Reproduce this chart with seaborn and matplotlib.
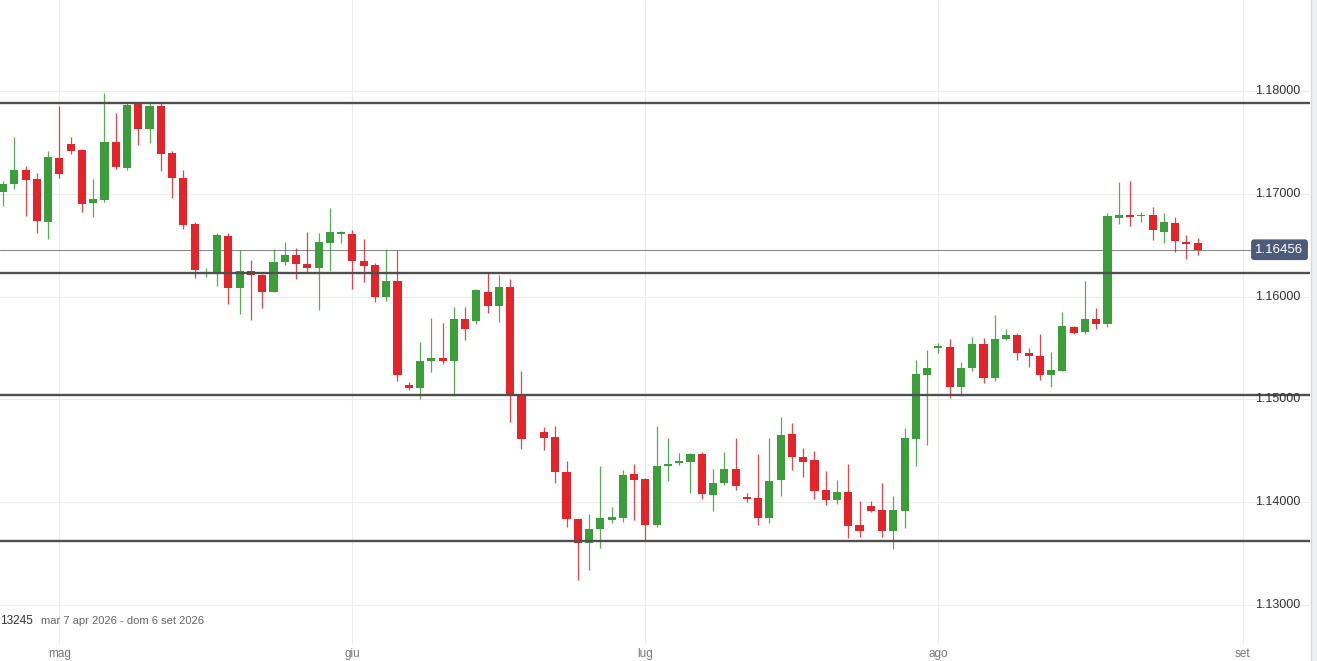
import seaborn as sns
import pandas as pd
import numpy as np
import matplotlib.pyplot as plt
import matplotlib.transforms as mtransforms
from matplotlib.patches import Rectangle
from matplotlib.lines import Line2D

# candele giornaliere (slot = una seduta, 6 per settimana); lo slot 47 è vuoto
opens = [1.1702, 1.1710, 1.1723, 1.1714, 1.1673, 1.1735, 1.1748, 1.1743, 1.1691, 1.1694,
         1.1750, 1.1725, 1.1787, 1.1763, 1.1785, 1.1740, 1.1715, 1.1671, 1.1622, 1.1624,
         1.1659, 1.1608, 1.1625, 1.1621, 1.1604, 1.1634, 1.1640, 1.1632, 1.1628, 1.1652,
         1.1661, 1.1661, 1.1635, 1.1631, 1.1600, 1.1615, 1.1514, 1.1511, 1.1537, 1.1540,
         1.1537, 1.1578, 1.1576, 1.1604, 1.1591, 1.1609, 1.1504, np.nan, 1.1468, 1.1463,
         1.1429, 1.1384, 1.1360, 1.1374, 1.1383, 1.1385, 1.1427, 1.1423, 1.1378, 1.1435,
         1.1438, 1.1439, 1.1447, 1.1407, 1.1419, 1.1432, 1.1405, 1.1404, 1.1385, 1.1422,
         1.1466, 1.1444, 1.1441, 1.1412, 1.1402, 1.1410, 1.1378, 1.1396, 1.1392, 1.1372,
         1.1391, 1.1461, 1.1524, 1.1550, 1.1551, 1.1512, 1.1531, 1.1554, 1.1521, 1.1559,
         1.1563, 1.1545, 1.1542, 1.1524, 1.1528, 1.1570, 1.1566, 1.1578, 1.1573, 1.1676,
         1.1679, 1.1678, 1.1679, 1.1663, 1.1672, 1.1653, 1.1652]
highs = [1.1712, 1.1755, 1.1727, 1.1720, 1.1742, 1.1785, 1.1755, 1.1744, 1.1714, 1.1798,
         1.1779, 1.1788, 1.1788, 1.1789, 1.1789, 1.1742, 1.1723, 1.1673, 1.1628, 1.1662,
         1.1662, 1.1645, 1.1636, 1.1622, 1.1646, 1.1653, 1.1647, 1.1663, 1.1662, 1.1686,
         1.1664, 1.1665, 1.1656, 1.1633, 1.1646, 1.1645, 1.1517, 1.1556, 1.1579, 1.1574,
         1.1590, 1.1590, 1.1607, 1.1623, 1.1621, 1.1617, 1.1528, np.nan, 1.1473, 1.1474,
         1.1440, 1.1384, 1.1389, 1.1435, 1.1395, 1.1431, 1.1437, 1.1424, 1.1474, 1.1462,
         1.1448, 1.1448, 1.1449, 1.1432, 1.1449, 1.1462, 1.1409, 1.1447, 1.1462, 1.1483,
         1.1477, 1.1453, 1.1450, 1.1430, 1.1422, 1.1437, 1.1401, 1.1401, 1.1419, 1.1406,
         1.1472, 1.1538, 1.1548, 1.1555, 1.1559, 1.1536, 1.1561, 1.1560, 1.1582, 1.1568,
         1.1565, 1.1550, 1.1564, 1.1546, 1.1585, 1.1571, 1.1615, 1.1589, 1.1681, 1.1711,
         1.1712, 1.1682, 1.1687, 1.1681, 1.1677, 1.1660, 1.1657]
lows = [1.1688, 1.1705, 1.1678, 1.1662, 1.1656, 1.1715, 1.1739, 1.1682, 1.1677, 1.1692,
        1.1724, 1.1723, 1.1747, 1.1749, 1.1722, 1.1696, 1.1666, 1.1618, 1.1619, 1.1610,
        1.1593, 1.1583, 1.1577, 1.1589, 1.1604, 1.1631, 1.1617, 1.1624, 1.1587, 1.1625,
        1.1652, 1.1607, 1.1614, 1.1595, 1.1596, 1.1518, 1.1509, 1.1500, 1.1527, 1.1534,
        1.1503, 1.1558, 1.1573, 1.1584, 1.1575, 1.1478, 1.1452, np.nan, 1.1451, 1.1419,
        1.1376, 1.13245, 1.1334, 1.1355, 1.1380, 1.1381, 1.1383, 1.1362, 1.1376, 1.1421,
        1.1436, 1.1409, 1.1403, 1.1391, 1.1417, 1.1412, 1.1400, 1.1378, 1.1380, 1.1406,
        1.1431, 1.1425, 1.1403, 1.1397, 1.1398, 1.1365, 1.1366, 1.1390, 1.1366, 1.1354,
        1.1375, 1.1435, 1.1456, 1.1545, 1.1501, 1.1503, 1.1528, 1.1516, 1.1518, 1.1558,
        1.1538, 1.1532, 1.1519, 1.1512, 1.1528, 1.1564, 1.1564, 1.1568, 1.1570, 1.1671,
        1.1669, 1.1673, 1.1655, 1.1652, 1.1643, 1.1637, 1.1640]
closes = [1.1710, 1.1723, 1.1713, 1.1674, 1.1736, 1.1719, 1.1742, 1.1690, 1.1695, 1.1750,
          1.1726, 1.1786, 1.1763, 1.1785, 1.1739, 1.1715, 1.1670, 1.1626, 1.1624, 1.1660,
          1.1608, 1.1625, 1.1621, 1.1604, 1.1634, 1.1640, 1.1632, 1.1628, 1.1653, 1.1663,
          1.1662, 1.1635, 1.1630, 1.1600, 1.1615, 1.1524, 1.1511, 1.1537, 1.1540, 1.1537,
          1.1578, 1.1568, 1.1606, 1.1591, 1.1609, 1.1504, 1.1461, np.nan, 1.1462, 1.1429,
          1.1384, 1.1360, 1.1374, 1.1385, 1.1386, 1.1426, 1.1422, 1.1378, 1.1435, 1.1437,
          1.1439, 1.1447, 1.1408, 1.1419, 1.1432, 1.1416, 1.1403, 1.1385, 1.1421, 1.1465,
          1.1444, 1.1439, 1.1411, 1.1402, 1.1410, 1.1377, 1.1372, 1.1391, 1.1372, 1.1392,
          1.1462, 1.1525, 1.1531, 1.1551, 1.1512, 1.1531, 1.1554, 1.1521, 1.1559, 1.1563,
          1.1545, 1.1542, 1.1524, 1.1529, 1.1571, 1.1565, 1.1578, 1.1573, 1.1678, 1.1679,
          1.1677, 1.1679, 1.1665, 1.1673, 1.1654, 1.1651, 1.16456]

month_labels = ['mag', 'giu', 'lug', 'ago', 'set']
month_slots = [5, 31, 57, 83, 110]
price_ticks = [1.13, 1.14, 1.15, 1.16, 1.17, 1.18]
levels = [1.17888, 1.16227, 1.15040, 1.13622]   # supporti / resistenze
last_price = 1.16456
range_text = 'mar 7 apr 2026 - dom 6 set 2026'
min_text = '13245'

GREEN = '#3b9e3b'
RED = '#e3242b'

sns.set_theme(style='white')
plt.rcParams['font.family'] = ['Liberation Sans', 'DejaVu Sans']

df = pd.DataFrame({'open': opens, 'high': highs, 'low': lows, 'close': closes})
df['slot'] = np.arange(len(df))
df = df.dropna()
df['up'] = df['close'] >= df['open']
df['color'] = np.where(df['up'], GREEN, RED)
df['body_lo'] = df[['open', 'close']].min(axis=1)
df['body_h'] = (df['close'] - df['open']).abs().clip(lower=0.00016)

fig = plt.figure(figsize=(13.17, 6.61), dpi=100)
ax = fig.add_axes([0, 16 / 661, 1310 / 1317, 645 / 661])
ax.set_xlim(-0.27, 115.97)
ax.set_ylim(1.126109, 1.188852)

# griglia
ax.set_xticks(month_slots)
ax.set_xticklabels(month_labels)
ax.set_yticks(price_ticks)
ax.set_yticklabels([])
ax.grid(True, color='#ececec', lw=0.8, zorder=0)
ax.tick_params(axis='x', length=0, pad=2, labelsize=8.5, labelcolor='#777777')
ax.tick_params(axis='y', length=0)
sns.despine(ax=ax, left=True, bottom=True, right=True, top=True)

# candele
ax.vlines(df['slot'], df['low'], df['high'], colors=df['color'], lw=0.9, alpha=0.85, zorder=2)
ax.bar(df['slot'], df['body_h'], bottom=df['body_lo'], width=0.72, color=df['color'], lw=0, zorder=2)

# linee orizzontali
for lv in levels:
    ax.axhline(lv, color='#4f4f4f', lw=1.7, zorder=3)
ax.axhline(last_price, xmax=1252 / 1310, color='#8c8c8c', lw=0.8, zorder=1)

# etichette prezzo a destra
tr = mtransforms.blended_transform_factory(ax.transAxes, ax.transData)
for v in price_ticks:
    ax.text(1300 / 1310, v, f'{v:.5f}', transform=tr, ha='right', va='center',
            fontsize=9, color='#333333')
ax.text(1279.5 / 1310, last_price, f'{last_price:.5f}', transform=tr, ha='center', va='center',
        fontsize=9.5, color='white', zorder=5,
        bbox=dict(boxstyle='round,pad=0.33,rounding_size=0.25', fc='#4b5b78', ec='none'))

# testo in basso
fig.text(0, 1 - 621 / 661, min_text, fontsize=8.5, color='#333333', va='center')
fig.text(41 / 1317, 1 - 621 / 661, range_text, fontsize=8, color='#666666', va='center')

# striscia a destra
fig.patches.append(Rectangle((1311 / 1317, 0), 6 / 1317, 1, transform=fig.transFigure,
                             fc='#edf1f2', ec='none'))
fig.add_artist(Line2D([1310.5 / 1317] * 2, [0, 1], transform=fig.transFigure,
                      color='#d6dada', lw=1))

fig.savefig('out.png', dpi=100)
